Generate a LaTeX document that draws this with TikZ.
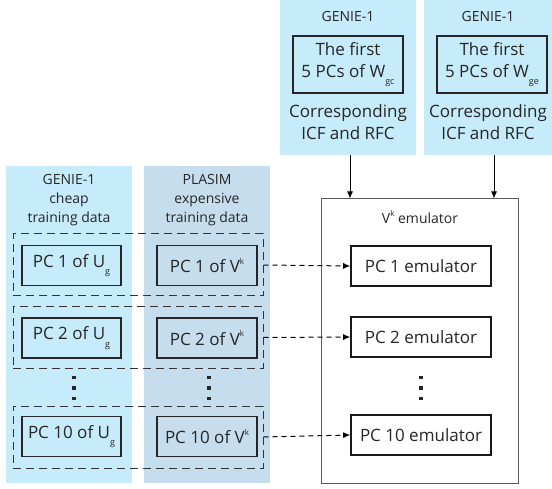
\documentclass[tikz,border=0pt]{standalone}
\usepackage{fontspec}
\setmainfont{Open Sans}
\usetikzlibrary{positioning,arrows.meta}
\definecolor{genieblue}{HTML}{C6EBFA}
\definecolor{plasimblue}{HTML}{C6DDEE}
\newcommand\lowidx[1]{\raisebox{-0.45em}{\fontsize{9}{9}\selectfont #1}}
\newcommand\highidx[1]{\raisebox{0.5em}{\fontsize{8}{8}\selectfont #1}}
\tikzset{>={Latex[length=7pt,width=6pt]}, % filled arrow heads
panel/.style={fill=#1, inner sep=0pt}, % coloured background columns
headtext/.style={align=center, text=black!85, font=\fontsize{14}{19}\selectfont}, % column titles
pcbox/.style={draw=black!85, line width=1.8pt, inner sep=0pt, align=center, text=black!85,
  minimum height=40pt, font=\fontsize{17}{22}\selectfont}, % thick boxes
groupbox/.style={draw=black!80, dash pattern=on 8pt off 5pt, line width=1pt,
  minimum width=250pt, minimum height=62pt}, % dashed groups
emubox/.style={draw=black!65, line width=1pt}, % emulator frame
feed/.style={->, dash pattern=on 5pt off 4pt, line width=1pt}, % dashed links
}

\begin{document}
\begin{tikzpicture}[x=1pt,y=-1pt]
\useasboundingbox (0,0) rectangle (552,489);

% top inputs
\node[panel=genieblue, minimum width=136pt, minimum height=155pt] (topc) at (348,77.5) {};
\node[panel=genieblue, minimum width=128pt, minimum height=155pt] (tope) at (488,77.5) {};
\node[headtext] (topcname) at (348,17) {GENIE-1};
\node[headtext] (topename) at (488,17) {GENIE-1};
\node[pcbox, minimum width=110pt, minimum height=57pt] (wgc) at (348,64.5) {The first\\5 PCs of W\lowidx{gc}};
\node[pcbox, minimum width=110pt, minimum height=57pt] (wge) at (492,64.5) {The first\\5 PCs of W\lowidx{ge}};
\node[align=center, text=black!85, font=\fontsize{17}{22}\selectfont] (icfc) at (348,122.5) {Corresponding\\ICF and RFC};
\node[align=center, text=black!85, font=\fontsize{17}{22}\selectfont] (icfe) at (488,122.5) {Corresponding\\ICF and RFC};

% training data columns
\node[panel=genieblue, minimum width=126pt, minimum height=317pt] (cheap) at (69,324.5) {};
\node[panel=plasimblue, minimum width=126pt, minimum height=317pt] (expen) at (207,324.5) {};
\node[headtext] (cheapname) at (69,200) {GENIE-1\\cheap\\training data};
\node[headtext] (expenname) at (207,200) {PLASIM\\expensive\\training data};

\node[groupbox] (g1) at (138,265) {};
\node[groupbox, minimum height=61pt] (g2) at (138,337.5) {};
\node[groupbox] (g10) at (138,437) {};

\node[pcbox, minimum width=99pt] (u1) at (71.5,265.5) {PC 1 of U\lowidx{g}};
\node[pcbox, minimum width=99pt] (u2) at (71.5,338) {PC 2 of U\lowidx{g}};
\node[pcbox, minimum width=99pt] (u10) at (71.5,436.5) {PC 10 of U\lowidx{g}};
\node[pcbox, minimum width=100pt] (v1) at (207,265.5) {PC 1 of V\highidx{k}};
\node[pcbox, minimum width=100pt] (v2) at (207,338) {PC 2 of V\highidx{k}};
\node[pcbox, minimum width=100pt] (v10) at (207,436.5) {PC 10 of V\highidx{k}};

% emulator
\node[emubox, minimum width=197pt, minimum height=284pt] (emu) at (419.5,341) {};
\node[headtext] (emuname) at (420,217) {V\highidx{k} emulator};
\node[pcbox, draw=black!90, line width=1.6pt, minimum width=140pt] (e1) at (421,266) {PC 1 emulator};
\node[pcbox, draw=black!90, line width=1.6pt, minimum width=140pt] (e2) at (421,337) {PC 2 emulator};
\node[pcbox, draw=black!90, line width=1.6pt, minimum width=140pt] (e10) at (421,435) {PC 10 emulator};

% vertical dots
\coordinate (dotsu) at (74,388);
\coordinate (dotsv) at (209,388);
\coordinate (dotse) at (421,388);
\foreach \c in {dotsu,dotsv,dotse}
  \foreach \d in {-10.5,0,10.5}
    \fill[black!85] ([yshift=\d pt]\c) +(-1.8,-1.8) rectangle +(1.8,1.8);

\draw[->, line width=1pt] ([xshift=2pt]topc.south) -- ([xshift=2pt]topc.south |- emu.north);
\draw[->, line width=1pt] ([xshift=6pt]tope.south) -- ([xshift=6pt]tope.south |- emu.north);
\draw[feed] (g1.east) -- (e1.west);
\draw[feed] (g2.east) -- (e2.west);
\draw[feed] (g10.east) -- (e10.west);
\end{tikzpicture}
\end{document}
